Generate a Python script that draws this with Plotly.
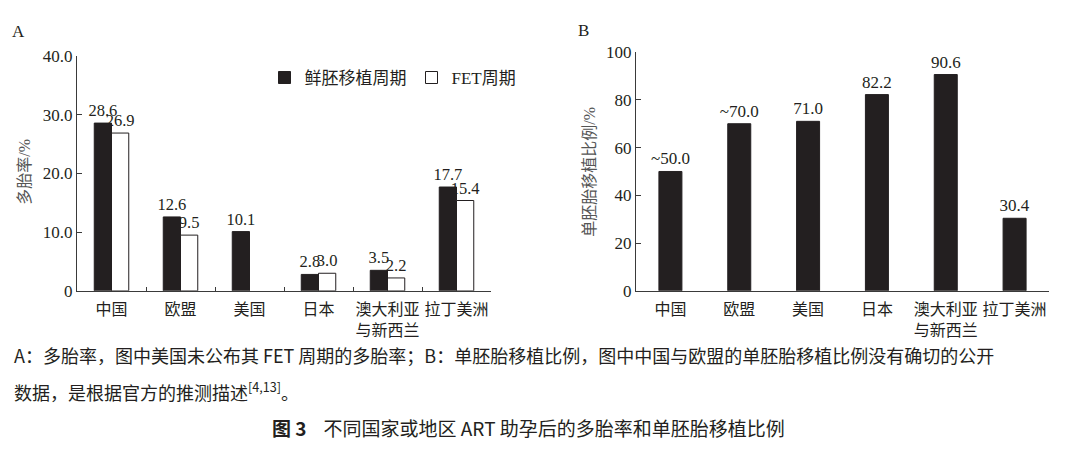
import plotly.graph_objects as go

# ---------------- data ----------------
categories = ["中国", "欧盟", "美国", "日本", "澳大利亚<br>与新西兰", "拉丁美洲"]
fresh_rate = [28.6, 12.6, 10.1, 2.8, 3.5, 17.7]          # 鲜胚移植周期 多胎率
fet_rate = [26.9, 9.5, None, 3.0, 2.2, 15.4]             # FET周期 多胎率 (美国未公布)
set_ratio = [50.0, 70.0, 71.0, 82.2, 90.6, 30.4]         # 单胚胎移植比例
set_approx = [True, True, False, False, False, False]    # 推测值
a_ticks = [0, 10, 20, 30, 40]
a_ticktext = ["0", "10.0", "20.0", "30.0", "40.0"]
b_ticks = [0, 20, 40, 60, 80, 100]

W, H = 1080, 449
DARK = "#231f20"
NUM = "Liberation Serif"
SERIF = "Liberation Serif, Noto Sans CJK SC"
CJK = "Noto Sans CJK SC"


def px_x(x):
    return x / W


def px_y(y):
    return 1 - y / H


fig = go.Figure()

fig.add_trace(go.Bar(
    x=categories, y=fresh_rate, name="鲜胚移植周期",
    marker=dict(color=DARK, line=dict(color=DARK, width=1)),
    offset=-0.25, width=0.25,
    text=[f"{v:.1f}" for v in fresh_rate], textposition="outside",
    constraintext="none", cliponaxis=False,
    textfont=dict(family=NUM, size=16.5, color=DARK),
    xaxis="x", yaxis="y",
))
fig.add_trace(go.Bar(
    x=categories, y=fet_rate, name="FET周期",
    marker=dict(color="white", line=dict(color=DARK, width=1)),
    offset=0.0, width=0.25,
    text=[("" if v is None else f"{v:.1f}") for v in fet_rate], textposition="outside",
    constraintext="none", cliponaxis=False,
    textfont=dict(family=NUM, size=16.5, color=DARK),
    xaxis="x", yaxis="y",
))
fig.add_trace(go.Bar(
    x=categories, y=set_ratio, name="单胚胎移植比例", showlegend=False,
    marker=dict(color=DARK, line=dict(color=DARK, width=1)),
    offset=-0.167, width=0.334,
    text=[("~" if a else "") + f"{v:.1f}" for v, a in zip(set_ratio, set_approx)],
    textposition="outside", constraintext="none", cliponaxis=False,
    textfont=dict(family=NUM, size=17, color=DARK),
    xaxis="x2", yaxis="y2",
))

axis_common = dict(
    showline=True, linecolor="#3a3a3a", linewidth=1.3,
    showgrid=False, zeroline=False,
)
xtickfont = dict(family=CJK, size=16, color=DARK)
ytickfont = dict(family=NUM, size=17, color=DARK)

fig.update_layout(
    width=W, height=H,
    margin=dict(l=0, r=0, t=0, b=0),
    paper_bgcolor="white", plot_bgcolor="white",
    showlegend=True,
    legend=dict(
        orientation="h", x=px_x(393), xanchor="center", y=px_y(72), yanchor="middle",
        font=dict(family=SERIF, size=17, color=DARK),
        bgcolor="rgba(0,0,0,0)", itemwidth=30, tracegroupgap=0,
    ),
    xaxis=dict(
        domain=[px_x(77), px_x(491)], anchor="y",
        type="category", ticks="inside", ticklen=4, tickson="boundaries",
        tickcolor="#3a3a3a", tickangle=0, tickfont=xtickfont, ticklabelstandoff=4,
        **axis_common,
    ),
    yaxis=dict(
        domain=[px_y(294.3), px_y(49.3)], anchor="x",
        range=[0, 40], tickvals=a_ticks, ticktext=a_ticktext,
        ticks="inside", ticklen=5, tickcolor="#3a3a3a", tickfont=ytickfont, **axis_common,
    ),
    xaxis2=dict(
        domain=[px_x(636), px_x(1049)], anchor="y2",
        type="category", ticks="", tickangle=0, tickfont=xtickfont, ticklabelstandoff=4,
        **axis_common,
    ),
    yaxis2=dict(
        domain=[px_y(294.3), px_y(45)], anchor="x2",
        range=[0, 100], tickvals=b_ticks,
        ticks="inside", ticklen=5, tickcolor="#3a3a3a", tickfont=ytickfont, **axis_common,
    ),
    annotations=[
        dict(text="A", x=px_x(18), y=px_y(23), xref="paper", yref="paper",
             xanchor="center", yanchor="middle",
             showarrow=False, font=dict(family=NUM, size=17, color=DARK)),
        dict(text="B", x=px_x(583), y=px_y(22), xref="paper", yref="paper",
             xanchor="center", yanchor="middle",
             showarrow=False, font=dict(family=NUM, size=17, color=DARK)),
        dict(text="多胎率/%", x=px_x(25), y=px_y(170), xref="paper", yref="paper",
             xanchor="center", yanchor="middle", textangle=-90, showarrow=False,
             font=dict(family=SERIF, size=16, color="#555555")),
        dict(text="单胚胎移植比例/%", x=px_x(590), y=px_y(170), xref="paper", yref="paper",
             xanchor="center", yanchor="middle", textangle=-90, showarrow=False,
             font=dict(family=SERIF, size=16, color="#555555")),
        dict(text="A：多胎率，图中美国未公布其 FET 周期的多胎率；B：单胚胎移植比例，图中中国与欧盟的单胚胎移植比例没有确切的公开",
             x=px_x(12), y=px_y(361), xref="paper", yref="paper",
             xanchor="left", yanchor="middle",
             showarrow=False, font=dict(family=CJK, size=18, color=DARK)),
        dict(text="数据，是根据官方的推测描述<sup>[4,13]</sup>。",
             x=px_x(12), y=px_y(399), xref="paper", yref="paper",
             xanchor="left", yanchor="middle",
             showarrow=False, font=dict(family=CJK, size=18, color=DARK)),
        dict(text="<b>图 3</b>    不同国家或地区 ART 助孕后的多胎率和单胚胎移植比例",
             x=px_x(528), y=px_y(437), xref="paper", yref="paper",
             xanchor="center", yanchor="middle",
             showarrow=False, font=dict(family=CJK, size=19, color=DARK)),
    ],
)

fig.write_html("out.html")
